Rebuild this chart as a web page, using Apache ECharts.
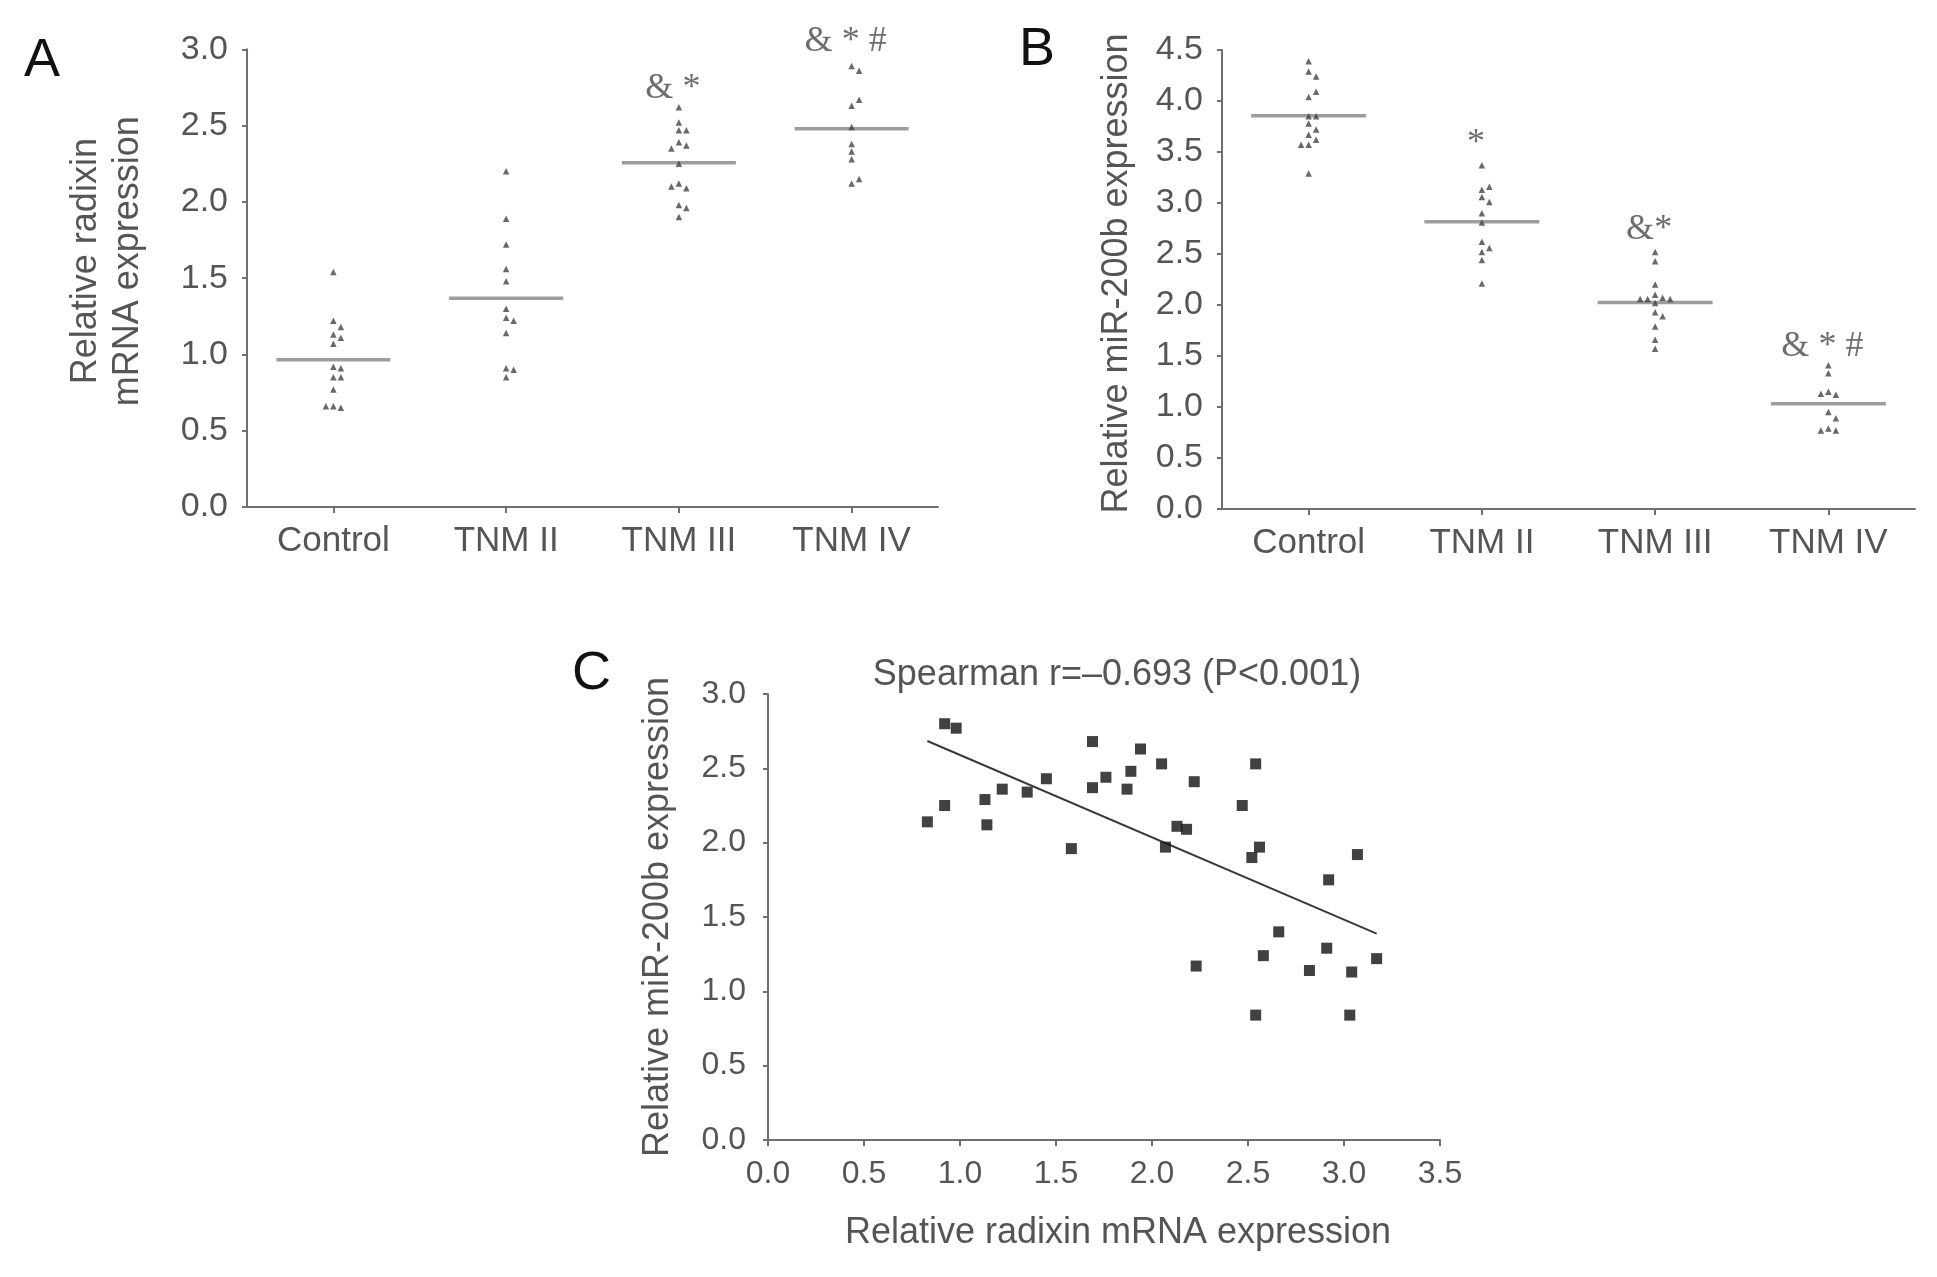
<!DOCTYPE html>
<html>
<head>
<meta charset="utf-8">
<script src="https://cdn.jsdelivr.net/npm/echarts@6/dist/echarts.min.js"></script>
<style>
html,body{margin:0;padding:0;background:#fff;}
#chart{width:1937px;height:1277px;}
</style>
</head>
<body>
<div id="chart"></div>
<script>
// ---------- DATA ----------
const categories = ['Control', 'TNM II', 'TNM III', 'TNM IV'];

// Panel A: relative radixin mRNA expression
const radixinControl = [1.54, 1.22, 1.18, 1.13, 1.11, 1.07, 0.92, 0.91, 0.85, 0.85, 0.77, 0.66, 0.65, 0.66];
const radixinTNM2   = [2.20, 1.89, 1.72, 1.56, 1.48, 1.30, 1.24, 1.22, 1.14, 0.91, 0.90, 0.85];
const radixinTNM3   = [2.62, 2.52, 2.47, 2.47, 2.39, 2.37, 2.35, 2.25, 2.12, 2.09, 2.10, 1.98, 1.96, 1.90];
const radixinTNM4   = [2.89, 2.86, 2.63, 2.67, 2.49, 2.38, 2.33, 2.28, 2.12, 2.15];

// Panel B: relative miR-200b expression
const mirControl = [4.39, 4.29, 4.24, 4.04, 4.09, 3.85, 3.85, 3.78, 3.72, 3.67, 3.62, 3.57, 3.57, 3.29];
const mirTNM2    = [3.37, 3.13, 3.16, 3.06, 3.01, 2.90, 2.81, 2.62, 2.56, 2.52, 2.44, 2.21];
const mirTNM3    = [2.52, 2.43, 2.20, 2.10, 2.07, 2.06, 2.06, 2.06, 2.02, 1.93, 1.89, 1.79, 1.66, 1.57];
const mirTNM4    = [1.41, 1.33, 1.15, 1.12, 1.13, 0.95, 0.89, 0.79, 0.77, 0.77];

// Significance marks (text and the value level where they sit)
const marksA      = ['', '', '& *', '& * #'];
const marksAValue = [null, null, 2.744, 3.049];
const marksB      = ['', '*', '&*', '& * #'];
const marksBValue = [null, 3.578, 2.735, 1.59];

// Panel C: correlation
const corrRadixin = [0.83, 0.92, 0.98, 0.92, 1.13, 1.14, 1.22, 1.35, 1.45, 1.58, 1.69, 1.69, 1.76, 1.87, 1.89, 1.94, 2.05, 2.07,
                     2.13, 2.18, 2.22, 2.23, 2.47, 2.54, 2.52, 2.56, 2.54, 2.58, 2.66, 2.82, 2.91, 2.92, 3.04, 3.03, 3.07, 3.17];
const corrMir     = [2.14, 2.80, 2.77, 2.25, 2.29, 2.12, 2.36, 2.34, 2.43, 1.96, 2.68, 2.37, 2.44, 2.36, 2.48, 2.63, 2.53, 1.97,
                     2.11, 2.09, 2.41, 1.17, 2.25, 2.53, 1.90, 1.97, 0.84, 1.24, 1.40, 1.14, 1.29, 1.75, 1.13, 0.84, 1.92, 1.22];
const fitSlope = -0.5535;
const fitIntercept = 3.143;
const spearmanText = 'Spearman r=\u20130.693 (P<0.001)';

// ---------- BUILD ----------
const groupsA = [radixinControl, radixinTNM2, radixinTNM3, radixinTNM4];
const groupsB = [mirControl, mirTNM2, mirTNM3, mirTNM4];

const FONT = 'Liberation Sans, Arial, sans-serif';
const AXIS_COLOR = '#707070';
const TEXT_COLOR = '#555';

function mean(a) { return a.reduce((s, v) => s + v, 0) / a.length; }

function slotsFor(vals, tol) {
  const placed = [];
  const order = [0, 1, -1, 2, -2];
  return vals.map(v => {
    for (const s of order) {
      if (!placed.some(p => p.s === s && Math.abs(p.v - v) < tol)) { placed.push({ s, v }); return s; }
    }
    return 0;
  });
}

function pointData(groups, tol) {
  const out = [];
  groups.forEach((vals, i) => {
    const sl = slotsFor(vals, tol);
    vals.forEach((v, k) => out.push({ value: [i, v], symbolOffset: [sl[k] * 7.5, 0] }));
  });
  return out;
}

function markData(texts, values) {
  const out = [];
  texts.forEach((t, i) => { if (t) out.push({ value: [i, values[i]], label: { formatter: t } }); });
  return out;
}

function catAxis(gridIndex) {
  return {
    type: 'category', gridIndex, data: categories,
    axisLine: { lineStyle: { color: AXIS_COLOR, width: 2 } },
    axisTick: { show: true, alignWithLabel: true, length: 6, lineStyle: { color: AXIS_COLOR, width: 2 } },
    axisLabel: { color: TEXT_COLOR, fontSize: 35, fontFamily: FONT, margin: 17 },
    splitLine: { show: false }
  };
}

function valAxis(gridIndex, max, extra) {
  return Object.assign({
    type: 'value', gridIndex, min: 0, max: max, interval: 0.5,
    axisLine: { show: true, lineStyle: { color: AXIS_COLOR, width: 2 } },
    axisTick: { show: true, length: 5, lineStyle: { color: AXIS_COLOR, width: 2 } },
    axisLabel: { color: TEXT_COLOR, fontSize: 34, fontFamily: FONT, margin: 19, formatter: v => v.toFixed(1) },
    splitLine: { show: false },
    nameLocation: 'middle',
    nameTextStyle: { color: TEXT_COLOR, fontSize: 36, fontFamily: FONT }
  }, extra || {});
}

const xMin = Math.min(...corrRadixin), xMax = Math.max(...corrRadixin);
const fitLine = [[xMin, fitIntercept + fitSlope * xMin], [xMax, fitIntercept + fitSlope * xMax]];

const markLabel = {
  show: true, position: 'inside', color: '#4a4a4a', fontSize: 36,
  fontFamily: 'Liberation Serif, Times New Roman, serif', offset: [-6, 0]
};

const option = {
  animation: false,
  backgroundColor: '#fff',
  grid: [
    { left: 247, top: 49.3, width: 691, height: 457.7, containLabel: false, outerBoundsMode: 'none' },
    { left: 1222, top: 50, width: 693, height: 459, containLabel: false, outerBoundsMode: 'none' },
    { left: 768, top: 694, width: 672, height: 446, containLabel: false, outerBoundsMode: 'none' }
  ],
  xAxis: [
    catAxis(0),
    catAxis(1),
    {
      type: 'value', gridIndex: 2, min: 0, max: 3.5, interval: 0.5,
      axisLine: { show: true, lineStyle: { color: AXIS_COLOR, width: 2 } },
      axisTick: { show: true, length: 6, lineStyle: { color: AXIS_COLOR, width: 2 } },
      axisLabel: { color: TEXT_COLOR, fontSize: 32, fontFamily: FONT, margin: 18, formatter: v => v.toFixed(1) },
      splitLine: { show: false },
      name: 'Relative radixin mRNA expression', nameLocation: 'middle', nameGap: 75,
      nameTextStyle: { color: TEXT_COLOR, fontSize: 36, fontFamily: FONT, padding: [0, 0, 0, 28] }
    }
  ],
  yAxis: [
    valAxis(0, 3, {
      name: 'Relative radixin\nmRNA expression', nameGap: 98,
      nameTextStyle: { color: TEXT_COLOR, fontSize: 36, fontFamily: FONT, lineHeight: 42, padding: [0, 0, 0, 34] }
    }),
    valAxis(1, 4.5, {
      name: 'Relative miR-200b expression', nameGap: 87,
      nameTextStyle: { color: TEXT_COLOR, fontSize: 36, fontFamily: FONT, lineHeight: 36, padding: [0, 0, 0, 12] }
    }),
    valAxis(2, 3, {
      name: 'Relative miR-200b expression', nameGap: 92,
      axisLabel: { color: TEXT_COLOR, fontSize: 32, fontFamily: FONT, margin: 22, formatter: v => v.toFixed(1) },
      nameTextStyle: { color: TEXT_COLOR, fontSize: 36, fontFamily: FONT, lineHeight: 36 }
    })
  ],
  series: [
    // Panel A
    { type: 'scatter', xAxisIndex: 0, yAxisIndex: 0, z: 1, silent: true,
      symbol: 'rect', symbolSize: [114, 3.5], itemStyle: { color: '#858585' },
      data: groupsA.map((g, i) => [i, mean(g)]) },
    { type: 'scatter', xAxisIndex: 0, yAxisIndex: 0, z: 2, silent: true,
      symbol: 'triangle', symbolSize: 6.5, itemStyle: { color: '#444' },
      data: pointData(groupsA, 0.045) },
    { type: 'scatter', xAxisIndex: 0, yAxisIndex: 0, z: 3, silent: true, clip: false,
      symbolSize: 0, label: markLabel, data: markData(marksA, marksAValue) },
    // Panel B
    { type: 'scatter', xAxisIndex: 1, yAxisIndex: 1, z: 1, silent: true,
      symbol: 'rect', symbolSize: [115, 3.5], itemStyle: { color: '#858585' },
      data: groupsB.map((g, i) => [i, mean(g)]) },
    { type: 'scatter', xAxisIndex: 1, yAxisIndex: 1, z: 2, silent: true,
      symbol: 'triangle', symbolSize: 6.5, itemStyle: { color: '#444' },
      data: pointData(groupsB, 0.065) },
    { type: 'scatter', xAxisIndex: 1, yAxisIndex: 1, z: 3, silent: true, clip: false,
      symbolSize: 0, label: markLabel, data: markData(marksB, marksBValue) },
    // Panel C
    { type: 'scatter', xAxisIndex: 2, yAxisIndex: 2, z: 2, silent: true,
      symbol: 'rect', symbolSize: 11, itemStyle: { color: '#111' },
      data: corrRadixin.map((x, i) => [x, corrMir[i]]) },
    { type: 'line', xAxisIndex: 2, yAxisIndex: 2, z: 1, silent: true,
      showSymbol: false, lineStyle: { color: '#3a3a3a', width: 2 },
      data: fitLine }
  ],
  graphic: [
    { type: 'text', x: 24, y: 61, style: { text: 'A', font: '54px ' + FONT, fill: '#111', verticalAlign: 'middle' } },
    { type: 'text', x: 1019, y: 50, style: { text: 'B', font: '54px ' + FONT, fill: '#111', verticalAlign: 'middle' } },
    { type: 'text', x: 572, y: 674, style: { text: 'C', font: '54px ' + FONT, fill: '#111', verticalAlign: 'middle' } },
    { type: 'text', x: 1117, y: 675, style: { text: spearmanText, font: '36px ' + FONT, fill: TEXT_COLOR, align: 'center', verticalAlign: 'middle' } }
  ]
};

const chart = echarts.init(document.getElementById('chart'), null, { renderer: 'canvas' });
chart.setOption(option);
</script>
</body>
</html>
